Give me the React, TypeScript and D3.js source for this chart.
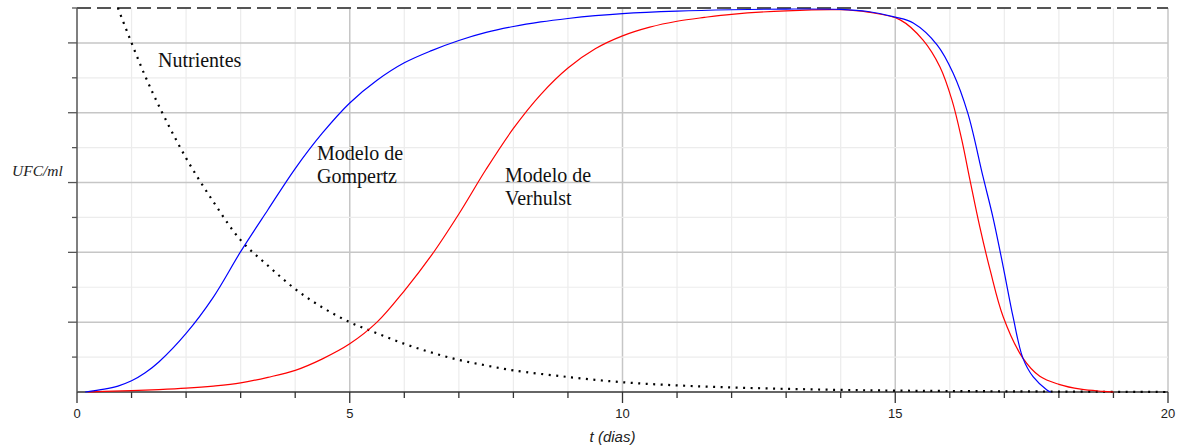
import React, { useEffect, useRef } from 'react';
import * as d3 from 'd3';

// time (days) and population (y in units of 0..11, 11 = capacity)
const gompertzT = [0.15, 0.5, 0.75, 1.0, 1.25, 1.5, 2.0, 2.5, 3.0, 3.5, 4.0, 4.5, 5.0, 5.5, 6.0, 6.5, 7.0, 7.5, 8.0, 8.5, 9.0, 9.5, 10.0, 11.0, 12.0, 13.0, 14.0, 14.5, 15.0, 15.33, 15.77, 16.06, 16.33, 16.61, 16.79, 16.98, 17.16, 17.34, 17.53, 17.78, 17.85];
const gompertzV = [0.0, 0.08, 0.17, 0.32, 0.55, 0.86, 1.68, 2.72, 4.02, 5.22, 6.4, 7.42, 8.28, 8.93, 9.43, 9.78, 10.07, 10.3, 10.47, 10.6, 10.7, 10.78, 10.84, 10.91, 10.95, 10.97, 10.96, 10.9, 10.74, 10.57, 9.94, 9.14, 7.99, 6.16, 5.01, 3.58, 2.15, 0.97, 0.43, 0.06, 0.0];

const verhulstT = [0.2, 0.5, 1.0, 1.5, 2.0, 2.5, 3.0, 3.5, 4.0, 4.5, 5.0, 5.5, 6.0, 6.5, 7.0, 7.5, 8.0, 8.5, 9.0, 9.5, 10.0, 10.5, 11.0, 11.5, 12.0, 13.0, 14.0, 14.5, 15.09, 15.51, 15.82, 16.04, 16.22, 16.37, 16.55, 16.74, 16.98, 17.34, 17.65, 18.0, 18.4, 18.8, 19.0];
const verhulstV = [0.0, 0.02, 0.04, 0.07, 0.11, 0.17, 0.26, 0.42, 0.62, 0.95, 1.38, 2.0, 2.9, 3.92, 5.1, 6.38, 7.55, 8.52, 9.28, 9.83, 10.2, 10.45, 10.62, 10.73, 10.82, 10.92, 10.95, 10.88, 10.66, 10.08, 9.31, 8.36, 7.22, 6.07, 4.73, 3.49, 2.15, 0.97, 0.45, 0.22, 0.08, 0.02, 0.0];

const nutrientT = [0.75, 1.0, 1.25, 1.5, 2.0, 2.5, 3.0, 3.5, 4.0, 4.5, 5.0, 5.5, 6.0, 6.5, 7.0, 7.5, 8.0, 9.0, 10.0, 11.0, 12.0, 13.0, 14.0, 15.0, 17.0, 20.0];
const nutrientV = [11.0, 10.0, 9.05, 8.2, 6.7, 5.45, 4.35, 3.62, 2.95, 2.42, 2.0, 1.68, 1.38, 1.13, 0.92, 0.76, 0.62, 0.43, 0.28, 0.19, 0.13, 0.09, 0.06, 0.04, 0.02, 0.0];

const xTickLabels = ['0', '5', '10', '15', '20'];
const capacity = 11;

const App = () => {
  const ref = useRef<SVGSVGElement | null>(null);

  useEffect(() => {
    const svg = d3.select(ref.current);
    svg.selectAll('*').remove();

    const x = d3.scaleLinear().domain([0, 20]).range([77, 1168]);
    const y = d3.scaleLinear().domain([0, capacity]).range([392, 8]);

    const xs = d3.range(0, 21);
    const ys = d3.range(1, capacity);

    // grid
    const grid = svg.append('g');
    grid.selectAll('.vg').data(xs.slice(1)).enter().append('line')
      .attr('x1', (d) => x(d)).attr('x2', (d) => x(d))
      .attr('y1', y(0)).attr('y2', y(capacity))
      .attr('stroke', (d) => (d % 5 === 0 ? '#c6c6c6' : '#ececec'))
      .attr('stroke-width', (d) => (d % 5 === 0 ? 1.5 : 1.2));
    grid.selectAll('.hg').data(ys).enter().append('line')
      .attr('x1', x(0)).attr('x2', x(20))
      .attr('y1', (d) => y(d)).attr('y2', (d) => y(d))
      .attr('stroke', (d) => (d % 2 === 0 ? '#c6c6c6' : '#ececec'))
      .attr('stroke-width', (d) => (d % 2 === 0 ? 1.5 : 1.2));

    // carrying capacity
    svg.append('line')
      .attr('x1', x(0)).attr('x2', x(20))
      .attr('y1', y(capacity)).attr('y2', y(capacity))
      .attr('stroke', '#555').attr('stroke-width', 2)
      .attr('stroke-dasharray', '14 6');

    // axes
    const axisColor = '#333';
    svg.append('line')
      .attr('x1', x(0)).attr('x2', x(20)).attr('y1', y(0)).attr('y2', y(0))
      .attr('stroke', axisColor).attr('stroke-width', 1.5);
    svg.append('line')
      .attr('x1', x(0)).attr('x2', x(0)).attr('y1', y(0)).attr('y2', y(capacity))
      .attr('stroke', '#555').attr('stroke-width', 1.5);

    svg.selectAll('.xt').data(xs).enter().append('line')
      .attr('x1', (d) => x(d)).attr('x2', (d) => x(d))
      .attr('y1', y(0)).attr('y2', (d) => y(0) + (d % 5 === 0 ? 11 : 6))
      .attr('stroke', axisColor).attr('stroke-width', 1.3);
    svg.selectAll('.yt').data(d3.range(1, capacity + 1)).enter().append('line')
      .attr('x1', (d) => x(0) - (d % 2 === 0 ? 9 : 5)).attr('x2', x(0))
      .attr('y1', (d) => y(d)).attr('y2', (d) => y(d))
      .attr('stroke', '#555').attr('stroke-width', 1.3);

    svg.selectAll('.xl').data(xTickLabels).enter().append('text')
      .attr('x', (d) => x(+d)).attr('y', y(0) + 26)
      .attr('text-anchor', 'middle')
      .style('font-family', 'Liberation Sans, Arial, sans-serif')
      .style('font-size', '13px')
      .attr('fill', '#222')
      .text((d) => d);

    svg.append('text')
      .attr('x', x(10) - 10).attr('y', 442)
      .attr('text-anchor', 'middle')
      .style('font-family', 'Liberation Sans, Arial, sans-serif')
      .style('font-style', 'italic')
      .style('font-size', '15px')
      .attr('fill', '#222')
      .text('t (dias)');

    svg.append('text')
      .attr('x', 12).attr('y', 176)
      .style('font-family', 'Liberation Serif, Times New Roman, serif')
      .style('font-style', 'italic')
      .style('font-size', '15.5px')
      .attr('fill', '#222')
      .text('UFC/ml');

    // curves
    const line = d3.line<[number, number]>()
      .x((d) => x(d[0])).y((d) => y(d[1]))
      .curve(d3.curveCatmullRom.alpha(0.5));

    const nutrient = nutrientT.map((t, i) => [t, nutrientV[i]] as [number, number]);
    const verhulst = verhulstT.map((t, i) => [t, verhulstV[i]] as [number, number]);
    const gompertz = gompertzT.map((t, i) => [t, gompertzV[i]] as [number, number]);

    svg.append('path').attr('d', line(nutrient))
      .attr('fill', 'none').attr('stroke', '#000')
      .attr('stroke-width', 2.2).attr('stroke-dasharray', '2 5.5');
    svg.append('path').attr('d', line(verhulst))
      .attr('fill', 'none').attr('stroke', '#ff0000').attr('stroke-width', 1.2);
    svg.append('path').attr('d', line(gompertz))
      .attr('fill', 'none').attr('stroke', '#0000ff').attr('stroke-width', 1.2);

    // annotations
    const labels = [
      { lines: ['Nutrientes'], x: 158, y: 67 },
      { lines: ['Modelo de', 'Gompertz'], x: 317, y: 160 },
      { lines: ['Modelo de', 'Verhulst'], x: 505, y: 182 },
    ];
    labels.forEach((l) => {
      const t = svg.append('text')
        .attr('x', l.x).attr('y', l.y)
        .style('font-family', 'Liberation Serif, Times New Roman, serif')
        .style('font-size', '20px')
        .attr('fill', '#111');
      l.lines.forEach((s, i) => {
        t.append('tspan').attr('x', l.x).attr('dy', i === 0 ? 0 : 23).text(s);
      });
    });
  }, []);

  return (
    <div>
      <style>{'body{margin:0;background:#fff}'}</style>
      <svg ref={ref} width="1178" height="448" style={{ display: 'block', background: '#fff' }}></svg>
    </div>
  );
};

export default App;
